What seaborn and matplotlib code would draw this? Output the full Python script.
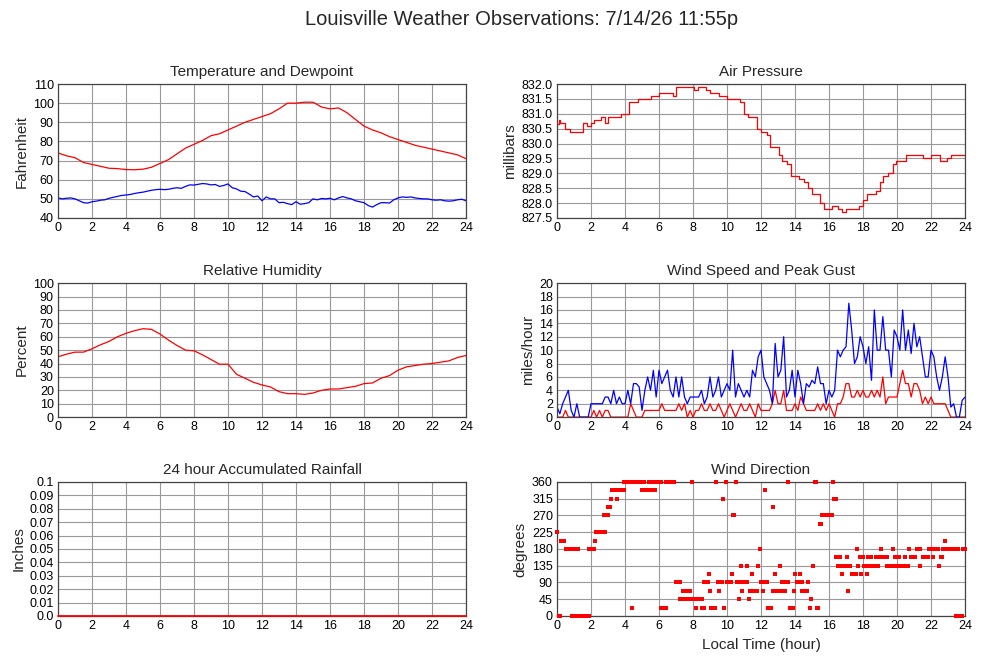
import numpy as np
import pandas as pd
import matplotlib
matplotlib.use("Agg")
import matplotlib.pyplot as plt
import seaborn as sns

# ---- values ----
temp_hour = np.arange(0, 24.01, 0.5)
temp_f = [74, 72.5, 71.5, 69, 68, 67, 66, 65.8, 65.3, 65.2, 65.5, 66.5, 68.5, 70.5,
          73.5, 76.5, 78.5, 80.5, 83, 84, 86, 88, 90, 91.5, 93, 94.5, 97, 100, 100,
          100.5, 100.5, 98, 97, 97.5, 95, 91.5, 88, 86, 84.5, 82.5, 81, 79.5, 78, 77,
          76, 75, 74, 73, 71]

dew_hour = np.arange(0, 24.01, 0.25)
dew_f = [50.5, 50, 50.3, 50.5, 50, 49, 48, 47.8, 48.5, 48.8, 49.3, 49.5, 50.3, 50.8,
         51.3, 51.8, 52, 52.3, 52.8, 53.2, 53.5, 54, 54.5, 54.8, 55, 54.8, 55, 55.5,
         55.8, 55.5, 56.5, 57.3, 57.2, 57.6, 58, 57.8, 57.3, 57.5, 56.5, 57, 57.8, 55.8,
         55.2, 54, 53.8, 52.5, 51, 51.5, 49, 51, 50, 50, 48, 48.2, 47.5, 47, 48.5, 47.2,
         47.5, 48, 50, 49.5, 50.2, 50, 50.3, 49.5, 50.5, 51.2, 50.5, 50, 49, 48.5, 48,
         46.5, 45.7, 47, 48, 48, 47.8, 49.5, 50.5, 51, 50.8, 51, 50.5, 50.2, 50, 50,
         49.5, 49.3, 49.5, 49, 48.8, 49, 49.5, 49.8, 49]

press_hour = [0, 0.1, 0.2, 0.45, 0.75, 1.5, 1.75, 2.0, 2.2, 2.6, 2.8, 3.0, 3.75, 4.25,
              4.75, 5.5, 6.0, 6.85, 7.0, 8.05, 8.3, 8.75, 9.0, 9.5, 10.0, 10.75, 11.0,
              11.25, 11.75, 12.0, 12.35, 12.5, 13.05, 13.25, 13.5, 13.75, 14.25, 14.5,
              14.75, 15.0, 15.45, 15.7, 16.15, 16.5, 16.75, 17.0, 17.75, 18.0, 18.25,
              18.75, 19.0, 19.2, 19.45, 19.75, 19.95, 20.5, 21.5, 22.0, 22.5, 22.95,
              23.2, 24.0]
press_mb = [830.65, 830.8, 830.7, 830.5, 830.4, 830.7, 830.6, 830.7, 830.8, 830.9,
            830.7, 830.9, 831.0, 831.4, 831.5, 831.6, 831.7, 831.6, 831.9, 831.8,
            831.9, 831.8, 831.7, 831.6, 831.5, 831.4, 831.0, 830.9, 830.5, 830.4,
            830.3, 829.9, 829.6, 829.4, 829.3, 828.9, 828.8, 828.7, 828.5, 828.3,
            828.0, 827.8, 827.9, 827.8, 827.7, 827.8, 827.9, 828.1, 828.3, 828.4,
            828.7, 828.9, 829.0, 829.3, 829.4, 829.6, 829.5, 829.6, 829.4, 829.5,
            829.6, 829.6]

rh_hour = np.arange(0, 24.01, 0.5)
rh_pct = [45, 47, 48.5, 48.5, 51, 54, 56.5, 60, 62.5, 64.5, 66, 65.5, 62, 57.5, 53.5,
          50, 49.5, 46.5, 43, 39.5, 39.5, 32, 29, 26, 24, 22.5, 19, 17.5, 17.5, 17, 18,
          20, 21, 21, 22, 23, 25, 25.5, 29, 31, 35, 37.5, 38.5, 39.5, 40, 41, 42, 44.5,
          46]

wind_hour = np.arange(0, 24.01, 1 / 6)
gust_mph = [1.5, 0.5, 2, 3, 4, 1,
            0, 2, 0, 0, 0, 0,
            2, 2, 2, 2, 2, 3,
            3, 2, 4, 2, 3, 2,
            2, 4, 2, 5, 5, 4.5,
            1, 4, 6, 4, 7, 3,
            7, 5, 6, 7, 4, 3,
            6, 3, 6, 3, 2, 3,
            3, 3, 3, 4, 2, 3,
            6, 3, 4, 6, 3, 4,
            5, 4, 10, 3, 5, 4,
            3, 4, 3, 7, 6, 9,
            10, 6, 5, 4, 2, 11,
            6, 7, 12, 3, 4, 7,
            3, 7, 5, 2, 5, 4.5,
            5.5, 5, 7.5, 5, 5, 2,
            4, 3, 4, 10, 9, 10,
            10.5, 17, 13, 8, 9, 12,
            10.5, 8, 10.5, 5.5, 16, 10,
            10, 15, 10, 10, 6, 13,
            12, 10, 16, 10, 13, 9.5,
            14, 10.5, 12, 9, 6, 6,
            10, 9, 6, 4, 6, 9,
            6, 1.5, 2, 0, 0, 2.5,
            3]
speed_mph = [0, 0, 0, 1, 0, 0,
             0, 0, 0, 0, 0, 0,
             0, 1, 0, 1, 0, 1,
             1, 0, 0, 0, 0, 0,
             0, 0, 2, 1, 0, 0,
             0, 1, 1, 1, 1, 1,
             1, 2, 1, 1, 1, 1,
             1, 2, 1, 2, 0, 1,
             0, 1, 1, 2, 1, 1,
             2, 1, 1, 2, 1, 0,
             1, 2, 1, 0, 1, 2,
             1, 1, 2, 1, 0, 2,
             1, 1, 1, 1, 2, 4,
             2, 2, 4, 1, 1, 1,
             2, 1, 3, 2, 1, 1,
             1, 1, 2, 1, 2, 1,
             2, 1, 0, 2, 2, 3,
             5, 5, 3, 3, 4, 3,
             4, 3, 3, 4, 3, 4,
             3, 6, 2, 3, 3, 3,
             3, 5, 7, 5, 5, 3,
             5, 5, 4, 2, 3, 2,
             3, 2, 2, 2, 2, 2,
             1, 0, 0, 0, 0, 0,
             0]

rain_hour = np.arange(0, 25, 1)
rain_in = [0.0] * 25

# wind direction observations, grouped by compass value
dir_360 = [3.95, 4.05, 4.15, 4.25, 4.35, 4.45, 4.55, 4.65, 4.75, 4.85, 4.95, 5.1, 5.4,
           5.5, 5.6, 5.8, 5.9, 6.0, 6.1, 6.4, 6.5, 6.6, 6.7, 6.8, 6.9, 7.97, 9.34, 9.93,
           10.52, 13.61, 15.15, 15.22, 16.22]
dir_337 = [3.22, 3.32, 3.42, 3.52, 3.62, 3.72, 3.82, 3.95, 5.0, 5.1, 5.2, 5.3, 5.4,
           5.67, 5.78, 12.25]
dir_315 = [3.15, 3.51, 9.77, 16.28, 16.36, 16.42]
dir_292 = [3.0, 3.1, 12.7]
dir_270 = [2.78, 2.88, 2.98, 10.34, 10.44, 15.58, 15.68, 15.78, 15.88, 15.98, 16.08,
           16.16]
dir_247 = [15.45, 15.55]
dir_225 = [0.02, 2.28, 2.38, 2.48, 2.58, 2.68, 2.8]
dir_202 = [0.22, 0.32, 0.42, 2.23, 22.8]
dir_180 = [0.5, 0.6, 0.7, 0.8, 0.88, 1.06, 1.16, 1.24, 1.9, 2.0, 2.1, 2.2, 11.95,
           17.63, 19.03, 19.79, 20.7, 21.15, 21.25, 21.33, 21.88, 21.98, 22.08, 22.18,
           22.3, 22.4, 22.72, 22.82, 22.92, 23.02, 23.12, 23.22, 23.32, 23.4, 23.6,
           23.88, 23.98]
dir_157 = [16.42, 16.52, 16.64, 17.04, 17.8, 17.9, 17.98, 18.28, 18.48, 18.78, 18.88,
           18.98, 19.08, 19.18, 19.28, 19.4, 19.86, 19.96, 20.06, 20.14, 20.48, 20.8,
           20.9, 21.0, 21.07, 21.5, 21.6, 21.7, 21.8, 22.11, 22.56, 22.65]
dir_135 = [10.82, 11.17, 11.84, 13.11, 15.04, 16.52, 16.62, 16.72, 16.82, 16.92, 17.0,
           17.24, 17.69, 18.03, 18.12, 18.18, 18.32, 18.42, 18.52, 18.62, 18.72, 18.86,
           19.43, 19.53, 19.63, 19.74, 20.0, 20.1, 20.2, 20.3, 20.44, 20.64, 21.36,
           22.46]
dir_112 = [8.95, 10.27, 11.46, 12.84, 14.02, 14.29, 16.77, 17.35, 17.45, 17.58, 17.89,
           18.22]
dir_90 = [7.0, 7.1, 7.22, 8.66, 8.76, 8.9, 9.45, 9.55, 9.65, 9.72, 9.98, 10.08, 10.18,
          10.22, 10.6, 10.7, 10.8, 10.98, 11.08, 11.16, 12.0, 12.1, 12.2, 12.3, 12.38,
          13.21, 13.48, 13.56, 14.1, 14.2, 14.3, 14.4, 14.78]
dir_67 = [7.4, 7.5, 7.6, 7.7, 7.8, 9.01, 9.5, 10.91, 11.38, 11.48, 11.58, 11.68, 11.78,
          12.09, 12.73, 12.83, 12.93, 13.03, 13.24, 13.4, 13.96, 14.42, 14.52, 14.62,
          14.73, 17.14]
dir_45 = [7.23, 7.33, 7.45, 7.56, 7.78, 7.88, 7.98, 8.08, 8.18, 8.28, 8.38, 8.5, 10.68,
          11.27, 14.96]
dir_22 = [4.39, 6.12, 6.22, 6.32, 6.4, 8.16, 8.52, 8.62, 9.06, 9.16, 9.28, 9.83, 12.4,
          12.5, 12.6, 13.72, 13.82, 13.9, 14.88, 15.28, 15.36]
dir_0 = [0.12, 0.2, 0.86, 0.96, 1.04, 1.26, 1.36, 1.46, 1.56, 1.66, 1.76, 1.86, 23.46,
         23.56, 23.66, 23.76, 23.84]

dir_groups = [(360, dir_360), (337.5, dir_337), (315, dir_315), (292.5, dir_292),
              (270, dir_270), (247.5, dir_247), (225, dir_225), (202.5, dir_202),
              (180, dir_180), (157.5, dir_157), (135, dir_135), (112.5, dir_112),
              (90, dir_90), (67.5, dir_67), (45, dir_45), (22.5, dir_22), (0, dir_0)]
wdir = pd.DataFrame([(h, d) for d, hrs in dir_groups for h in hrs],
                    columns=["hour", "deg"])

hour_ticks = list(range(0, 25, 2))

sns.set_theme(style="whitegrid")
plt.rcParams["font.family"] = ["Liberation Sans", "DejaVu Sans"]

RED = "#ff0000"
BLUE = "#0000ff"


def style_ax(ax, title, ylabel, ymin, ymax, yticks, ylabels=None):
    ax.set_xlim(0, 24)
    ax.set_ylim(ymin, ymax)
    ax.set_xticks(hour_ticks)
    ax.set_yticks(yticks)
    if ylabels is not None:
        ax.set_yticklabels(ylabels)
    ax.set_title(title, fontsize=11, pad=6)
    ax.set_ylabel(ylabel, fontsize=11, labelpad=3)
    ax.set_xlabel("")
    ax.grid(True, color="#999999", linewidth=0.8)
    ax.tick_params(axis="both", length=0, labelsize=9, pad=3, colors="black")
    for s in ax.spines.values():
        s.set_color("#444444")
        s.set_linewidth(0.9)
    if ax.get_legend() is not None:
        ax.get_legend().remove()


fig = plt.figure(figsize=(10, 6.6), dpi=100)
fig.suptitle("Louisville Weather Observations: 7/14/26 11:55p", fontsize=14.5,
             x=0.522, y=0.985)

x_left, x_right, w = 0.058, 0.557, 0.408
rows_y = [0.6697, 0.368, 0.0667]
h = 0.203

ax_t = fig.add_axes([x_left, rows_y[0], w, h])
sns.lineplot(x=temp_hour, y=temp_f, ax=ax_t, color=RED, linewidth=0.9)
sns.lineplot(x=dew_hour, y=dew_f, ax=ax_t, color=BLUE, linewidth=0.9)
style_ax(ax_t, "Temperature and Dewpoint", "Fahrenheit", 40, 110, range(40, 111, 10))

ax_p = fig.add_axes([x_right, rows_y[0], w, h])
sns.lineplot(x=press_hour, y=press_mb, ax=ax_p, color=RED, linewidth=0.9,
             drawstyle="steps-post")
pticks = np.arange(827.5, 832.01, 0.5)
style_ax(ax_p, "Air Pressure", "millibars", 827.5, 832.0, pticks,
         [f"{v:.1f}" for v in pticks])

ax_h = fig.add_axes([x_left, rows_y[1], w, h])
sns.lineplot(x=rh_hour, y=rh_pct, ax=ax_h, color=RED, linewidth=0.9)
style_ax(ax_h, "Relative Humidity", "Percent", 0, 100, range(0, 101, 10))

ax_w = fig.add_axes([x_right, rows_y[1], w, h])
sns.lineplot(x=wind_hour, y=speed_mph, ax=ax_w, color=RED, linewidth=0.9)
sns.lineplot(x=wind_hour, y=gust_mph, ax=ax_w, color=BLUE, linewidth=0.9)
style_ax(ax_w, "Wind Speed and Peak Gust", "miles/hour", 0, 20, range(0, 21, 2))

ax_r = fig.add_axes([x_left, rows_y[2], w, h])
sns.lineplot(x=rain_hour, y=rain_in, ax=ax_r, color=RED, linewidth=1.3,
             clip_on=False, zorder=5)
rticks = [0.0, 0.01, 0.02, 0.03, 0.04, 0.05, 0.06, 0.07, 0.08, 0.09, 0.1]
style_ax(ax_r, "24 hour Accumulated Rainfall", "Inches", 0, 0.1, rticks,
         ["0.0", "0.01", "0.02", "0.03", "0.04", "0.05", "0.06", "0.07", "0.08",
          "0.09", "0.1"])

ax_d = fig.add_axes([x_right, rows_y[2], w, h])
sns.scatterplot(data=wdir, x="hour", y="deg", ax=ax_d, color=RED, marker="s", s=6,
                linewidth=0, clip_on=False, zorder=5)
style_ax(ax_d, "Wind Direction", "degrees", 0, 360, range(0, 361, 45))
ax_d.set_xlabel("Local Time (hour)", fontsize=11, labelpad=4)

fig.savefig("out.png", dpi=100)
